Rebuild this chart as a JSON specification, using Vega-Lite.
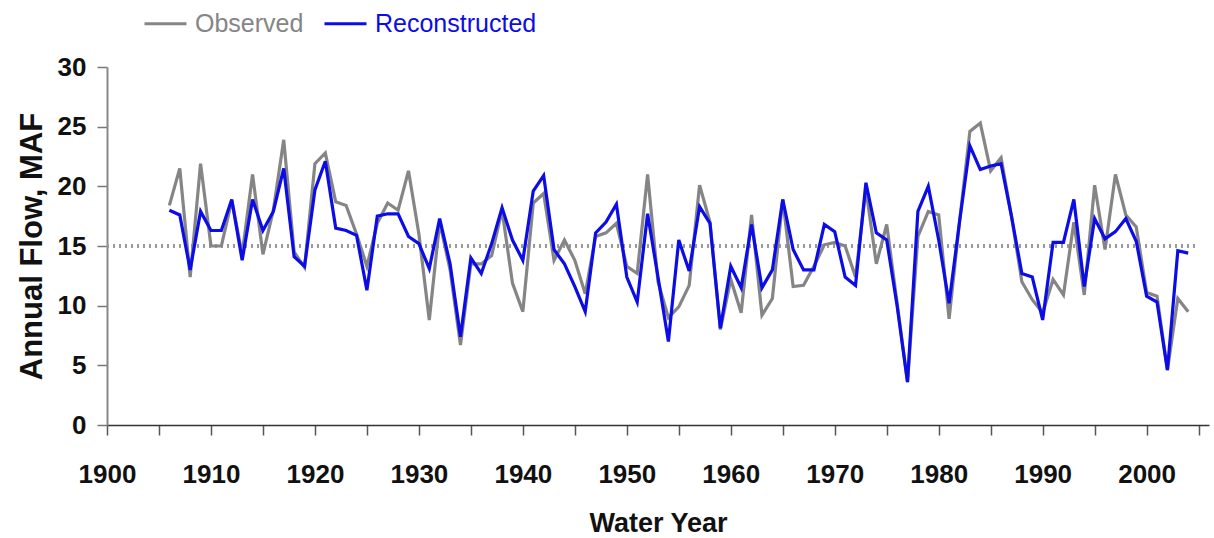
{
  "$schema": "https://vega.github.io/schema/vega-lite/v6.json",
  "width": 1102,
  "height": 358,
  "autosize": {"type": "none"},
  "padding": {"left": 107, "top": 67, "right": 5, "bottom": 113},
  "background": "white",
  "config": {"view": {"stroke": null}},
  "data": {"values": [
    {"year": 1906, "obs": 18.4, "rec": 18.0},
    {"year": 1907, "obs": 21.5, "rec": 17.6},
    {"year": 1908, "obs": 12.4, "rec": 13.0},
    {"year": 1909, "obs": 21.9, "rec": 17.9},
    {"year": 1910, "obs": 15.0, "rec": 16.3},
    {"year": 1911, "obs": 15.0, "rec": 16.3},
    {"year": 1912, "obs": 18.8, "rec": 18.9},
    {"year": 1913, "obs": 14.3, "rec": 13.8},
    {"year": 1914, "obs": 21.0, "rec": 18.9},
    {"year": 1915, "obs": 14.3, "rec": 16.3},
    {"year": 1916, "obs": 18.0, "rec": 17.9},
    {"year": 1917, "obs": 23.9, "rec": 21.5},
    {"year": 1918, "obs": 14.5, "rec": 14.1},
    {"year": 1919, "obs": 13.2, "rec": 13.3},
    {"year": 1920, "obs": 21.9, "rec": 19.7},
    {"year": 1921, "obs": 22.8, "rec": 22.1},
    {"year": 1922, "obs": 18.7, "rec": 16.5},
    {"year": 1923, "obs": 18.4, "rec": 16.3},
    {"year": 1924, "obs": 16.0, "rec": 15.9},
    {"year": 1925, "obs": 13.3, "rec": 11.3},
    {"year": 1926, "obs": 16.9, "rec": 17.5},
    {"year": 1927, "obs": 18.6, "rec": 17.7},
    {"year": 1928, "obs": 18.0, "rec": 17.7},
    {"year": 1929, "obs": 21.3, "rec": 15.8},
    {"year": 1930, "obs": 16.0, "rec": 15.2},
    {"year": 1931, "obs": 8.8, "rec": 13.1},
    {"year": 1932, "obs": 17.0, "rec": 17.3},
    {"year": 1933, "obs": 13.0, "rec": 13.5},
    {"year": 1934, "obs": 6.7, "rec": 7.4},
    {"year": 1935, "obs": 13.5, "rec": 14.0},
    {"year": 1936, "obs": 13.5, "rec": 12.7},
    {"year": 1937, "obs": 14.2, "rec": 15.2},
    {"year": 1938, "obs": 18.0, "rec": 18.2},
    {"year": 1939, "obs": 11.9, "rec": 15.5},
    {"year": 1940, "obs": 9.5, "rec": 13.8},
    {"year": 1941, "obs": 18.6, "rec": 19.6},
    {"year": 1942, "obs": 19.4, "rec": 20.9},
    {"year": 1943, "obs": 13.8, "rec": 14.7},
    {"year": 1944, "obs": 15.5, "rec": 13.5},
    {"year": 1945, "obs": 13.8, "rec": 11.6},
    {"year": 1946, "obs": 11.0, "rec": 9.5},
    {"year": 1947, "obs": 15.8, "rec": 16.1},
    {"year": 1948, "obs": 16.1, "rec": 17.0},
    {"year": 1949, "obs": 16.9, "rec": 18.5},
    {"year": 1950, "obs": 13.3, "rec": 12.4},
    {"year": 1951, "obs": 12.7, "rec": 10.3},
    {"year": 1952, "obs": 21.0, "rec": 17.7},
    {"year": 1953, "obs": 12.0, "rec": 12.4},
    {"year": 1954, "obs": 9.0, "rec": 7.0},
    {"year": 1955, "obs": 9.9, "rec": 15.5},
    {"year": 1956, "obs": 11.7, "rec": 12.9},
    {"year": 1957, "obs": 20.1, "rec": 18.3},
    {"year": 1958, "obs": 17.0, "rec": 16.9},
    {"year": 1959, "obs": 8.0, "rec": 8.1},
    {"year": 1960, "obs": 12.2, "rec": 13.3},
    {"year": 1961, "obs": 9.4, "rec": 11.5},
    {"year": 1962, "obs": 17.6, "rec": 16.8},
    {"year": 1963, "obs": 9.2, "rec": 11.5},
    {"year": 1964, "obs": 10.6, "rec": 13.0},
    {"year": 1965, "obs": 18.9, "rec": 18.9},
    {"year": 1966, "obs": 11.6, "rec": 14.7},
    {"year": 1967, "obs": 11.7, "rec": 13.0},
    {"year": 1968, "obs": 13.3, "rec": 13.0},
    {"year": 1969, "obs": 15.1, "rec": 16.8},
    {"year": 1970, "obs": 15.3, "rec": 16.2},
    {"year": 1971, "obs": 15.0, "rec": 12.4},
    {"year": 1972, "obs": 12.4, "rec": 11.7},
    {"year": 1973, "obs": 19.8, "rec": 20.3},
    {"year": 1974, "obs": 13.5, "rec": 16.1},
    {"year": 1975, "obs": 16.8, "rec": 15.5},
    {"year": 1976, "obs": 10.2, "rec": 10.0},
    {"year": 1977, "obs": 3.6, "rec": 3.6},
    {"year": 1978, "obs": 15.8, "rec": 17.9},
    {"year": 1979, "obs": 17.9, "rec": 20.0},
    {"year": 1980, "obs": 17.6, "rec": 15.5},
    {"year": 1981, "obs": 8.9, "rec": 10.2},
    {"year": 1982, "obs": 17.0, "rec": 17.0},
    {"year": 1983, "obs": 24.6, "rec": 23.4},
    {"year": 1984, "obs": 25.3, "rec": 21.4},
    {"year": 1985, "obs": 21.3, "rec": 21.7},
    {"year": 1986, "obs": 22.4, "rec": 21.9},
    {"year": 1987, "obs": 17.5, "rec": 17.5},
    {"year": 1988, "obs": 12.0, "rec": 12.7},
    {"year": 1989, "obs": 10.5, "rec": 12.4},
    {"year": 1990, "obs": 9.4, "rec": 8.8},
    {"year": 1991, "obs": 12.2, "rec": 15.3},
    {"year": 1992, "obs": 10.9, "rec": 15.3},
    {"year": 1993, "obs": 17.0, "rec": 18.9},
    {"year": 1994, "obs": 10.9, "rec": 11.6},
    {"year": 1995, "obs": 20.1, "rec": 17.3},
    {"year": 1996, "obs": 14.7, "rec": 15.6},
    {"year": 1997, "obs": 21.0, "rec": 16.2},
    {"year": 1998, "obs": 17.6, "rec": 17.3},
    {"year": 1999, "obs": 16.6, "rec": 15.4},
    {"year": 2000, "obs": 11.1, "rec": 10.8},
    {"year": 2001, "obs": 10.8, "rec": 10.3},
    {"year": 2002, "obs": 4.6, "rec": 4.6},
    {"year": 2003, "obs": 10.6, "rec": 14.6},
    {"year": 2004, "obs": 9.5, "rec": 14.4}
  ]},
  "layer": [
    {
      "mark": {"type": "rule", "color": "#9a9a9a", "strokeWidth": 2.5, "strokeDash": [2, 4]},
      "encoding": {
        "y": {"datum": 15, "type": "quantitative", "scale": {"domain": [0, 30], "nice": false}},
        "x": {"datum": 1900, "type": "quantitative"},
        "x2": {"datum": 2005}
      }
    },
    {
      "mark": {"type": "line", "strokeWidth": 3.2},
      "encoding": {
        "x": {
          "field": "year", "type": "quantitative",
          "scale": {"domain": [1900, 2006], "nice": false, "zero": false},
          "axis": {
            "title": "Water Year",
            "values": [1900, 1905, 1910, 1915, 1920, 1925, 1930, 1935, 1940, 1945, 1950, 1955, 1960, 1965, 1970, 1975, 1980, 1985, 1990, 1995, 2000, 2005],
            "labelExpr": "datum.value % 10 == 0 ? datum.value + '' : ''",
            "grid": false,
            "tickSize": 10,
            "tickColor": "#555",
            "tickWidth": 1.5,
            "domainColor": "#333",
            "domainWidth": 1.5,
            "labelFont": "Liberation Sans",
            "labelFontWeight": "bold",
            "labelFontSize": 26,
            "labelColor": "#111",
            "labelPadding": 26,
            "labelFlush": false,
            "labelOverlap": false,
            "titleFont": "Liberation Sans",
            "titleFontWeight": "bold",
            "titleFontSize": 27,
            "titleColor": "#111",
            "titlePadding": 23
          }
        },
        "y": {
          "field": "obs", "type": "quantitative",
          "scale": {"domain": [0, 30], "nice": false},
          "axis": {
            "title": "Annual Flow, MAF",
            "values": [0, 5, 10, 15, 20, 25, 30],
            "grid": false,
            "tickSize": 10,
            "tickColor": "#777",
            "tickWidth": 1.5,
            "domainColor": "#888",
            "domainWidth": 2,
            "labelFont": "Liberation Sans",
            "labelFontWeight": "bold",
            "labelFontSize": 26,
            "labelColor": "#111",
            "labelPadding": 11,
            "labelFlush": false,
            "titleFont": "Liberation Sans",
            "titleFontWeight": "bold",
            "titleFontSize": 31,
            "titleColor": "#111",
            "titlePadding": 9
          }
        },
        "color": {
          "datum": "Observed",
          "type": "nominal",
          "scale": {"domain": ["Observed", "Reconstructed"], "range": ["#858585", "#0c0ce6"]},
          "legend": {
            "title": null,
            "orient": "none",
            "legendX": 36,
            "legendY": -66,
            "direction": "horizontal",
            "symbolType": "stroke",
            "symbolSize": 1764,
            "symbolStrokeWidth": 3,
            "labelFont": "Liberation Sans",
            "labelFontSize": 25,
            "labelOffset": 7,
            "columnPadding": 14,
            "labelLimit": 400,
            "encode": {"labels": {"update": {"fill": {"scale": "color", "field": "value"}}}}
          }
        }
      }
    },
    {
      "mark": {"type": "line", "strokeWidth": 3.2},
      "encoding": {
        "x": {"field": "year", "type": "quantitative"},
        "y": {"field": "rec", "type": "quantitative"},
        "color": {"datum": "Reconstructed", "type": "nominal"}
      }
    }
  ]
}
